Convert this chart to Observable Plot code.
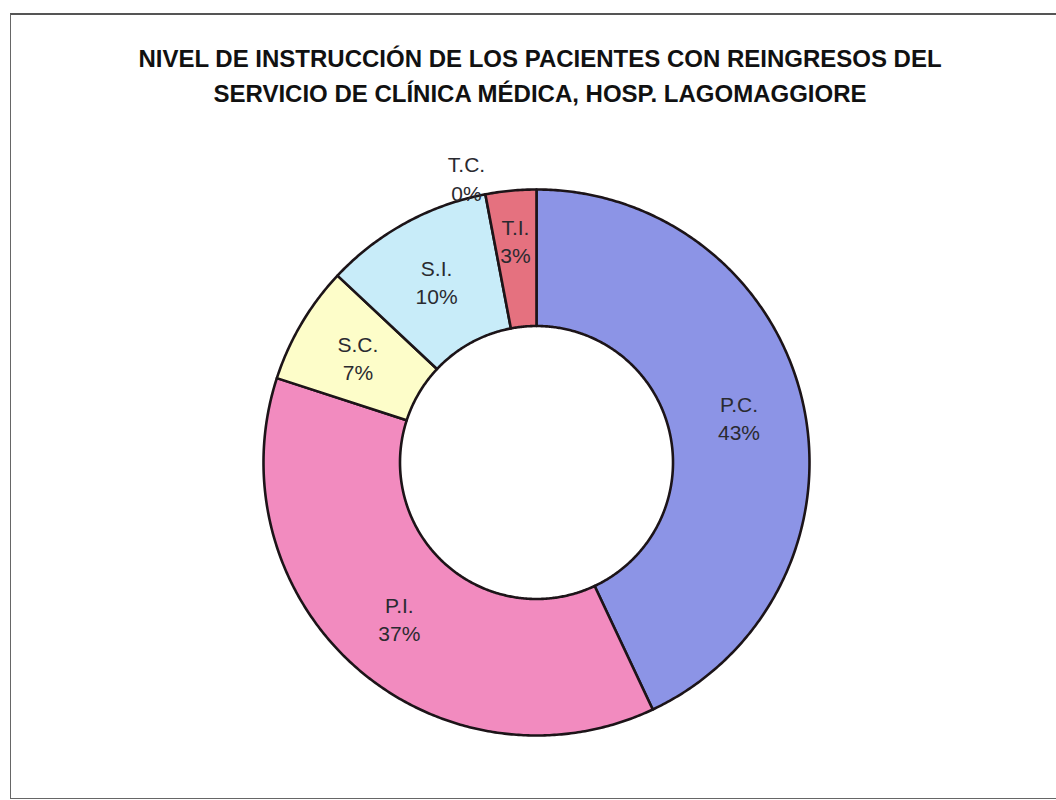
<!DOCTYPE html>
<html><head><meta charset="utf-8">
<script src="https://cdn.jsdelivr.net/npm/d3@7"></script>
<script src="https://cdn.jsdelivr.net/npm/@observablehq/plot@0.6"></script>
<style>
body{margin:0;background:#fff;width:1056px;height:800px;overflow:hidden;position:relative;font-family:"Liberation Sans",Arial,sans-serif}
#frame{position:absolute;left:10px;top:13px;width:1060px;height:786px;border:1.5px solid #666;border-top:2.5px solid #555;box-sizing:border-box}
#title{position:absolute;left:0;top:41px;width:1080px;text-align:center;font-weight:bold;font-size:24px;line-height:35px;color:#111}
#chart{position:absolute;left:0;top:0}
</style></head><body>
<div id="frame"></div>
<div id="chart"></div>
<div id="title">NIVEL DE INSTRUCCIÓN DE LOS PACIENTES CON REINGRESOS DEL<br>SERVICIO DE CLÍNICA MÉDICA, HOSP. LAGOMAGGIORE</div>
<script>
const categories = ["P.C.", "P.I.", "S.C.", "S.I.", "T.C.", "T.I."];
const percents = [43, 37, 7, 10, 0, 3];
const sliceColors = ["#8c94e6", "#f28bbf", "#fdfdc9", "#c8ecf9", "#ffffff", "#e5717f"];

const W = 1056, H = 800, CX = 536, CY = 462, R = 273;
const inner = 0.5;
const total = d3.sum(percents);

// cumulative angles (degrees, clockwise from 12 o'clock)
let acc = 0;
const slices = categories.map((c, i) => {
  const a0 = acc / total * 360;
  acc += percents[i];
  const a1 = acc / total * 360;
  return {cat: c, pct: percents[i], a0, a1, color: sliceColors[i]};
});

const pt = (deg, r) => {
  const t = deg * Math.PI / 180;
  return [r * Math.sin(t), r * Math.cos(t)];
};

// polygon outline of each ring slice
const ringPts = [];
slices.filter(s => s.pct > 0).forEach(s => {
  const n = Math.max(2, Math.ceil((s.a1 - s.a0) / 0.5));
  const pts = [];
  for (let k = 0; k <= n; k++) pts.push(pt(s.a0 + (s.a1 - s.a0) * k / n, 1));
  for (let k = n; k >= 0; k--) pts.push(pt(s.a0 + (s.a1 - s.a0) * k / n, inner));
  pts.push(pts[0]);
  pts.forEach(([x, y]) => ringPts.push({cat: s.cat, x, y, color: s.color}));
});

const labels = slices.map(s => {
  const mid = (s.a0 + s.a1) / 2;
  const outside = s.pct === 0;
  const r = outside ? 1.075 : (s.pct < 5 ? 0.82 : 0.76);
  const [x, y] = pt(outside ? mid - 3 : mid, r);
  return {x, y, text: s.cat + "\n" + s.pct + "%"};
});

const chart = Plot.plot({
  width: W, height: H,
  margin: 0,
  x: {domain: [-CX / R, (W - CX) / R], axis: null},
  y: {domain: [-(H - CY) / R, CY / R], axis: null},
  marks: [
    Plot.line(ringPts, {x: "x", y: "y", z: "cat", fill: "color", stroke: "#1c1418", strokeWidth: 2.6, strokeLinejoin: "round", curve: "linear"}),
    Plot.text(labels, {x: "x", y: "y", text: "text", fontSize: 21, lineHeight: 1.35, fill: "#2a2a30", fontFamily: "Liberation Sans, Arial, sans-serif"})
  ]
});
document.getElementById("chart").appendChild(chart);
</script>
</body></html>
